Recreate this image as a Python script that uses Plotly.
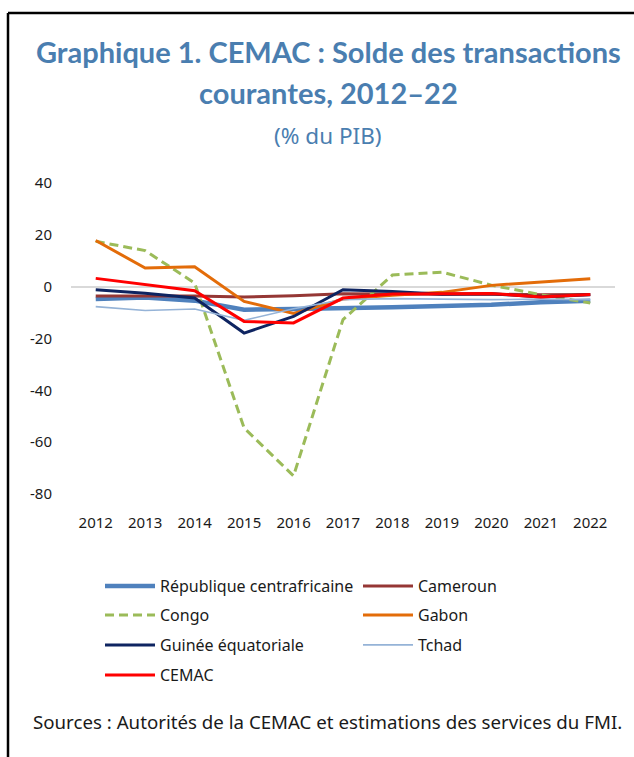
import plotly.graph_objects as go

# Current account balance, % of GDP
years = ["2012", "2013", "2014", "2015", "2016", "2017", "2018", "2019", "2020", "2021", "2022"]
rca = [-4.8, -4.2, -5.4, -8.9, -8.6, -8.4, -7.9, -7.5, -7.0, -6.0, -5.4]
cameroun = [-3.6, -3.5, -3.6, -4.0, -3.5, -2.7, -2.9, -2.9, -2.9, -3.1, -3.0]
congo = [17.5, 13.9, 1.4, -54.5, -73.0, -12.7, 4.5, 5.6, 0.6, -3.1, -6.3]
gabon = [17.8, 7.2, 7.7, -5.7, -10.3, -4.8, -3.3, -2.2, 0.5, 1.8, 3.1]
guinee = [-1.2, -2.5, -4.4, -17.9, -11.5, -1.2, -1.9, -2.9, -2.7, -4.0, -3.1]
tchad = [-7.7, -9.2, -8.6, -13.0, -8.5, -5.0, -4.6, -4.9, -5.0, -4.8, -5.0]
cemac = [3.2, 0.7, -1.6, -13.4, -14.0, -4.4, -2.8, -2.7, -2.6, -4.0, -3.0]

y_ticks = [40, 20, 0, -20, -40, -60, -80]

# name, values, colour, width, dash, legend cell (column, row)
series = [
    ("République centrafricaine", rca, "#4F81BD", 4.5, "solid", (0, 0)),
    ("Cameroun", cameroun, "#953735", 3, "solid", (1, 0)),
    ("Congo", congo, "#9BBB59", 3, "9px,5px", (0, 1)),
    ("Gabon", gabon, "#E36C09", 3, "solid", (1, 1)),
    ("Guinée équatoriale", guinee, "#0E2461", 3, "solid", (0, 2)),
    ("Tchad", tchad, "#95B3D7", 1.6, "solid", (1, 2)),
    ("CEMAC", cemac, "#FF0000", 3, "solid", (0, 3)),
]

W, H = 634, 757
L, R, T, B = 71, 19, 183, 263
pw, ph = W - L - R, H - T - B


def px(x):
    return (x - L) / pw


def py(y):
    return (H - B - y) / ph


legend_cols = [100, 358]
legend_rows = [586, 615, 645, 675]

fig = go.Figure()
legends = {}
for i, (name, vals, color, w, dash, (col, row)) in enumerate(series):
    key = "legend" if i == 0 else f"legend{i + 1}"
    fig.add_trace(go.Scatter(
        x=years, y=vals, name=name, mode="lines",
        line=dict(color=color, width=w, dash=dash), legend=key,
    ))
    legends[key] = dict(
        x=px(legend_cols[col]), y=py(legend_rows[row]),
        xanchor="left", yanchor="middle", itemwidth=50,
        font=dict(family="Noto Sans", size=16, color="#1a1a1a"),
        bgcolor="rgba(0,0,0,0)",
    )

title_color = "#4A7EB0"
text_color = "#1a1a1a"
fig.update_layout(
    width=W, height=H,
    margin=dict(l=L, r=R, t=T, b=B),
    paper_bgcolor="white", plot_bgcolor="white",
    font=dict(family="Noto Sans", size=15, color=text_color),
    showlegend=True,
    xaxis=dict(
        type="category", range=[-0.5, 10.5], showgrid=False, zeroline=False,
        showline=False, ticks="", tickfont=dict(size=15), ticklabelstandoff=18,
    ),
    yaxis=dict(
        range=[-80, 40], tickvals=y_ticks, ticktext=[str(v) for v in y_ticks],
        showgrid=False, zeroline=True, zerolinecolor="#D9D9D9", zerolinewidth=2,
        showline=False, ticks="", tickfont=dict(size=15), ticklabelstandoff=18,
    ),
    shapes=[
        dict(type="line", xref="paper", yref="paper",
             x0=px(8), x1=px(8), y0=py(13), y1=py(800),
             line=dict(color="black", width=2.5)),
        dict(type="line", xref="paper", yref="paper",
             x0=px(8), x1=px(700), y0=py(13), y1=py(13),
             line=dict(color="black", width=2.5)),
    ],
    annotations=[
        dict(text="<b>Graphique 1. CEMAC : Solde des transactions</b>",
             xref="paper", yref="paper", x=px(328), y=py(51),
             xanchor="center", yanchor="middle", showarrow=False,
             font=dict(family="Lato", size=29, color=title_color)),
        dict(text="<b>courantes, 2012–22</b>",
             xref="paper", yref="paper", x=px(328), y=py(92),
             xanchor="center", yanchor="middle", showarrow=False,
             font=dict(family="Lato", size=29, color=title_color)),
        dict(text="(% du PIB)",
             xref="paper", yref="paper", x=px(328), y=py(135),
             xanchor="center", yanchor="middle", showarrow=False,
             font=dict(family="Noto Sans", size=22.5, color=title_color)),
        dict(text="Sources : Autorités de la CEMAC et estimations des services du FMI.",
             xref="paper", yref="paper", x=px(31), y=py(721),
             xanchor="left", yanchor="middle", showarrow=False,
             font=dict(family="Noto Sans", size=18.7, color=text_color)),
    ],
)
fig.update_layout(**legends)

fig.write_html("out.html")
